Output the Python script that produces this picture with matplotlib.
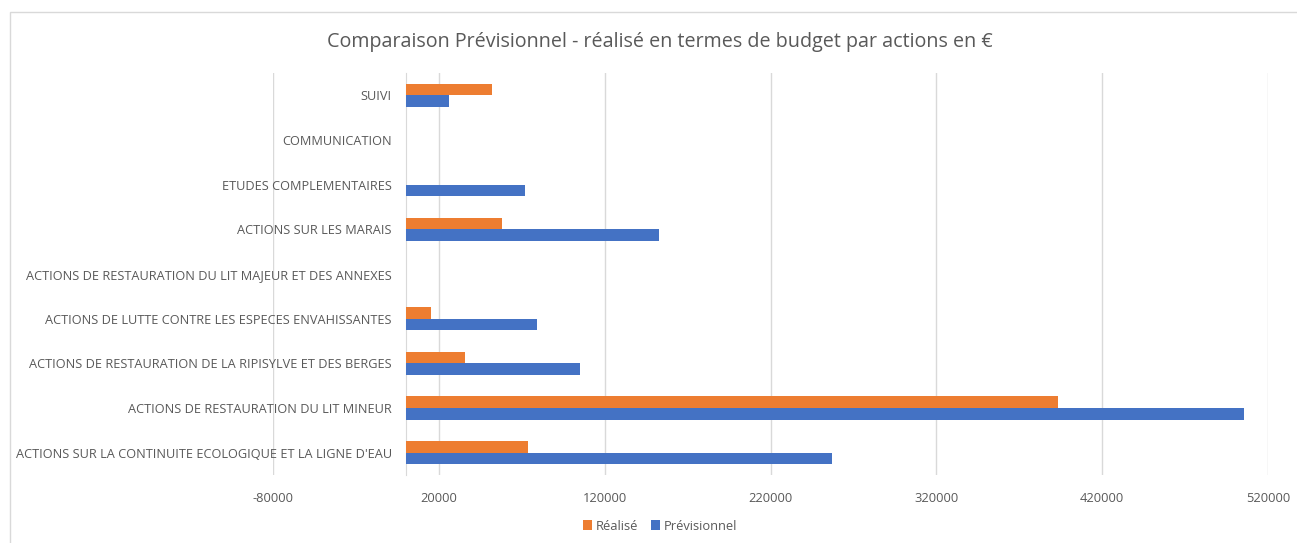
import matplotlib.pyplot as plt
import numpy as np
from matplotlib.patches import Rectangle

# categories listed bottom to top
categories = [
    "ACTIONS SUR LA CONTINUITE ECOLOGIQUE ET LA LIGNE D'EAU",
    "ACTIONS DE RESTAURATION DU LIT MINEUR",
    "ACTIONS DE RESTAURATION DE LA RIPISYLVE ET DES BERGES",
    "ACTIONS DE LUTTE CONTRE LES ESPECES ENVAHISSANTES",
    "ACTIONS DE RESTAURATION DU LIT MAJEUR ET DES ANNEXES",
    "ACTIONS SUR LES MARAIS",
    "ETUDES COMPLEMENTAIRES",
    "COMMUNICATION",
    "SUIVI",
]
realise = [74000, 393300, 35500, 15000, 0, 58200, 0, 400, 51900]
previsionnel = [257200, 505400, 105400, 78900, 0, 153000, 71800, 0, 26300]
x_ticks = [-80000, 20000, 120000, 220000, 320000, 420000, 520000]

orange = '#ED7D31'
blue = '#4472C4'
text_col = '#595959'
grid_col = '#D9D9D9'

plt.rcParams['font.family'] = ['Open Sans', 'DejaVu Sans']

fig = plt.figure(figsize=(12.97, 5.43), dpi=100)
ax = fig.add_axes([273 / 1297, 68 / 543, 995 / 1297, 402 / 543])

y = np.arange(len(categories))
h = 0.26
ax.barh(y + h / 2, realise, height=h, color=orange, label='Réalisé', zorder=3)
ax.barh(y - h / 2, previsionnel, height=h, color=blue, label='Prévisionnel', zorder=3)

ax.set_xlim(-80000, 520000)
ax.set_ylim(-0.5, len(categories) - 0.5)
ax.set_xticks(x_ticks)
ax.set_xticklabels([str(t) for t in x_ticks])
ax.set_yticks(y)
ax.set_yticklabels(categories)
ax.tick_params(axis='both', length=0, labelcolor=text_col)
ax.tick_params(axis='x', pad=12, labelsize=9.3)
ax.tick_params(axis='y', pad=10, labelsize=9.2)

ax.xaxis.grid(True, color=grid_col, linewidth=1, zorder=0)
for s in ['top', 'right', 'bottom']:
    ax.spines[s].set_visible(False)
ax.spines['left'].set_position(('data', 0))
ax.spines['left'].set_color(grid_col)
ax.spines['left'].set_zorder(2)

fig.suptitle('Comparaison Prévisionnel - réalisé en termes de budget par actions en €',
             x=660 / 1297, y=1 - 42 / 543, va='center', fontsize=14.2, color=text_col)

ax.legend(loc='center', bbox_to_anchor=(660 / 1297, 1 - 526 / 543), bbox_transform=fig.transFigure,
          ncol=2, frameon=False, fontsize=9.3, handlelength=0.7, handleheight=0.7,
          handletextpad=0.3, columnspacing=1.0, labelcolor=text_col)

fig.patches.append(Rectangle((10 / 1297, -0.01), 1.0, (543 - 12) / 543 + 0.01,
                             transform=fig.transFigure, fill=False,
                             edgecolor=grid_col, linewidth=1))

fig.savefig('out.png', dpi=100)
